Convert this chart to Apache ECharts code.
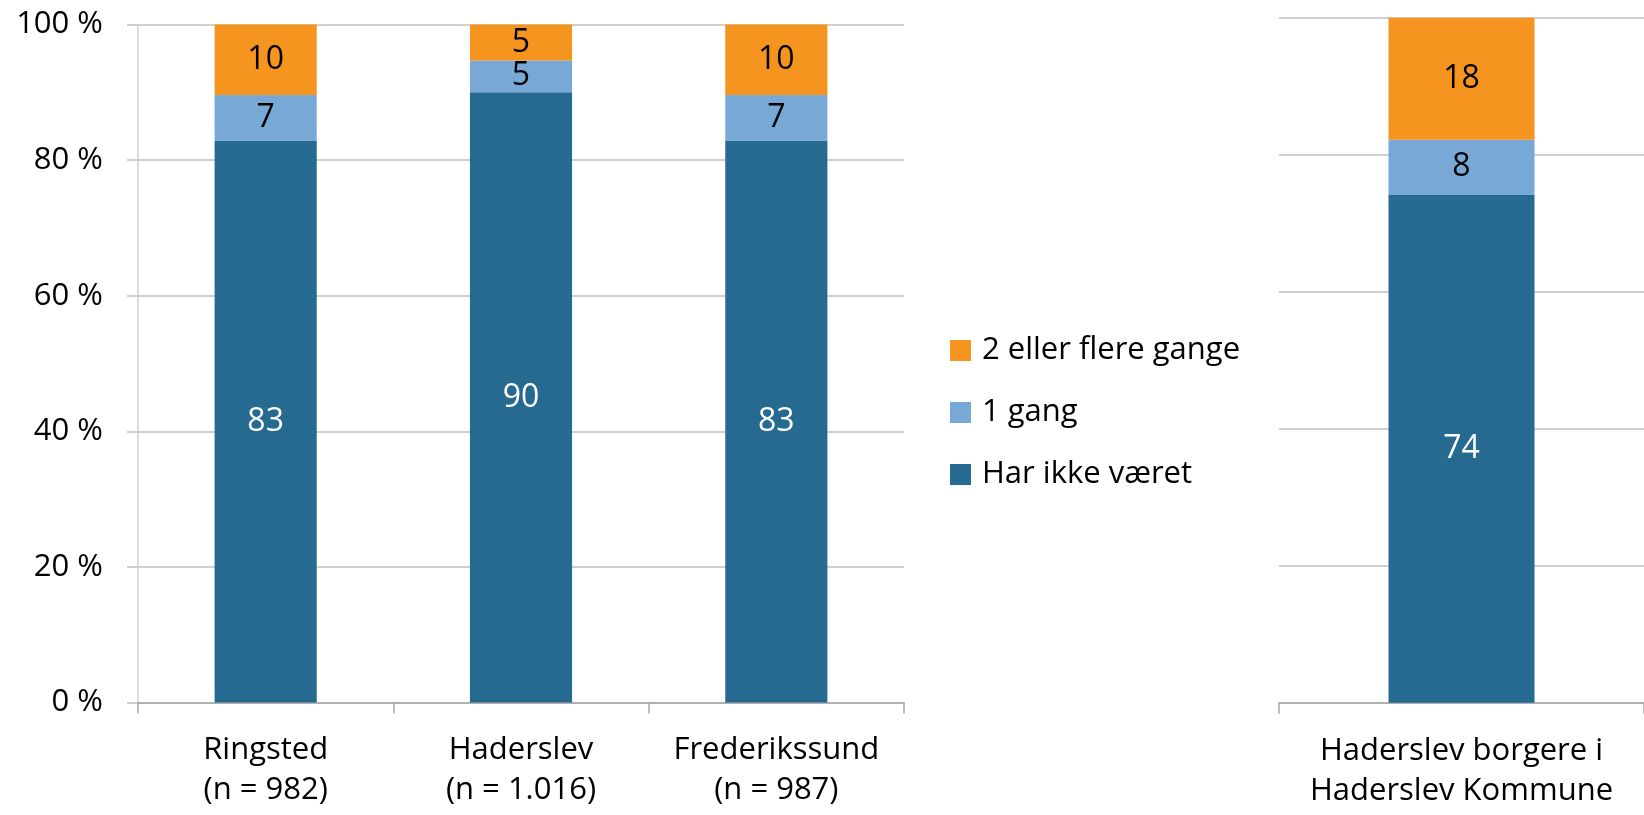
<!DOCTYPE html>
<html>
<head>
<meta charset="utf-8">
<script src="https://cdn.jsdelivr.net/npm/echarts@6/dist/echarts.min.js"></script>
<style>
  html, body { margin: 0; padding: 0; background: #fff; }
  #chart { width: 1644px; height: 815px; }
</style>
</head>
<body>
<div id="chart"></div>
<script>
// venstre del: tre kommuner (andele i %)
const categories = ['Ringsted\n(n = 982)', 'Haderslev\n(n = 1.016)', 'Frederikssund\n(n = 987)']
const harIkke = [82.9, 90.0, 82.9]
const enGang = [6.7, 4.7, 6.7]
const flere = [10.4, 5.3, 10.4]

// højre del
const rightCategories = ['Haderslev borgere i\nHaderslev Kommune']
const rightHarIkke = [74.1]
const rightEnGang = [8.1]
const rightFlere = [17.8]

const seriesNames = ['Har ikke været', '1 gang', '2 eller flere gange']
const colors = ['#266991', '#77A8D6', '#F5941F']
const labelColors = ['#fff', '#000', '#000']

const FONT = 'Open Sans'
const chart = echarts.init(document.getElementById('chart'))

function makeSeries(data, idx, axisIndex) {
  return {
    name: seriesNames[idx],
    type: 'bar',
    stack: 'total' + axisIndex,
    xAxisIndex: axisIndex,
    yAxisIndex: axisIndex,
    barWidth: '40%',
    data: data,
    itemStyle: { color: colors[idx] },
    label: {
      show: true,
      position: 'inside',
      fontSize: 32,
      fontFamily: FONT,
      color: labelColors[idx],
      formatter: p => Math.round(p.value)
    }
  }
}

const xAxisBase = {
  type: 'category',
  axisLine: { lineStyle: { color: '#A6A6A6', width: 1.5 } },
  axisTick: { show: true, length: 11, lineStyle: { color: '#A6A6A6', width: 1.5 } },
  axisLabel: { interval: 0, fontSize: 31, lineHeight: 40, color: '#000', fontFamily: FONT, margin: 28 }
}

const splitLine = { show: true, lineStyle: { color: '#C0C0C0', width: 1.5 } }

chart.setOption({
  animation: false,
  textStyle: { fontFamily: FONT },
  legend: {
    orient: 'vertical',
    left: 945,
    top: 330,
    icon: 'rect',
    itemWidth: 21,
    itemHeight: 21,
    itemGap: 31,
    data: ['2 eller flere gange', '1 gang', 'Har ikke været'],
    textStyle: { fontSize: 31, lineHeight: 31, color: '#000', fontFamily: FONT, padding: [0, 0, 0, 6] }
  },
  grid: [
    { left: 138, top: 24.5, width: 766, height: 678 },
    { left: 1279, top: 17.7, width: 378, height: 685 }
  ],
  xAxis: [
    Object.assign({}, xAxisBase, { gridIndex: 0, data: categories }),
    Object.assign({}, xAxisBase, { gridIndex: 1, data: rightCategories })
  ],
  yAxis: [
    {
      type: 'value', gridIndex: 0, min: 0, max: 100, interval: 20,
      axisLine: { show: true, lineStyle: { color: '#D0D0D0', width: 1.5 } },
      axisTick: { show: true, length: 11, lineStyle: { color: '#C0C0C0', width: 1.5 } },
      axisLabel: { formatter: '{value} %', fontSize: 31, color: '#000', fontFamily: FONT, margin: 35 },
      splitLine: splitLine
    },
    {
      type: 'value', gridIndex: 1, min: 0, max: 100, interval: 20,
      axisLine: { show: false },
      axisTick: { show: false },
      axisLabel: { show: false },
      splitLine: splitLine
    }
  ],
  series: [
    makeSeries(harIkke, 0, 0),
    makeSeries(enGang, 1, 0),
    makeSeries(flere, 2, 0),
    makeSeries(rightHarIkke, 0, 1),
    makeSeries(rightEnGang, 1, 1),
    makeSeries(rightFlere, 2, 1)
  ]
})
</script>
</body>
</html>
